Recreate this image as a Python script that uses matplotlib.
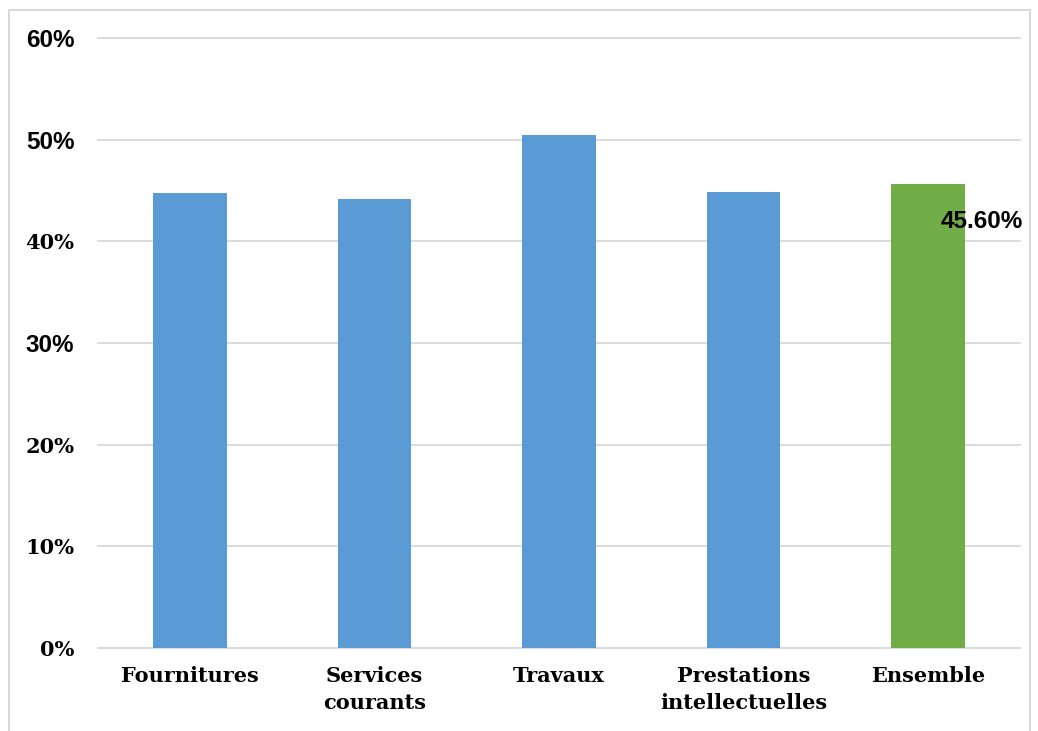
import matplotlib.pyplot as plt
from matplotlib import font_manager
from matplotlib.patches import Rectangle
from matplotlib.ticker import FuncFormatter

# Data
categories = ['Fournitures', 'Services\ncourants', 'Travaux',
              'Prestations\nintellectuelles', 'Ensemble']
values = [44.75, 44.2, 50.5, 44.85, 45.6]
bar_colors = ['#5B9BD5', '#5B9BD5', '#5B9BD5', '#5B9BD5', '#70AD47']
yticks = [0, 10, 20, 30, 40, 50, 60]
ensemble_label = '45.60%'

# Arial-like bold (avoid the Narrow variant)
sans_bold = None
for f in font_manager.fontManager.ttflist:
  if f.name == 'Liberation Sans' and f.weight == 700 and f.style == 'normal' \
     and 'Narrow' not in f.fname:
    sans_bold = font_manager.FontProperties(fname=f.fname)
    break
if sans_bold is None:
  sans_bold = font_manager.FontProperties(family='DejaVu Sans', weight='bold')

fig = plt.figure(figsize=(10.38, 7.31), dpi=100, facecolor='w')
ax = fig.add_axes([0.0944, 0.1135, 0.8883, 0.8345])

x = range(len(categories))
ax.bar(x, values, width=0.40, color=bar_colors, zorder=3)

ax.set_xlim(-0.5, len(categories) - 0.5)
ax.set_ylim(0, 60)
ax.set_yticks(yticks)
ax.yaxis.set_major_formatter(FuncFormatter(lambda v, p: '{:.0f}%'.format(v)))
ax.grid(axis='y', color='#D9D9D9', linewidth=1.3, zorder=0)
for gl in ax.get_ygridlines():
  gl.set_clip_on(False)
ax.set_axisbelow(True)

for s in ['top', 'right', 'left']:
  ax.spines[s].set_visible(False)
ax.spines['bottom'].set_color('#D9D9D9')
ax.spines['bottom'].set_linewidth(1.3)
ax.tick_params(axis='both', length=0)
ax.tick_params(axis='y', pad=17)
ax.tick_params(axis='x', pad=13)

ax.set_xticks(list(x))
ax.set_xticklabels(categories, fontsize=15, fontweight='bold',
                   family='DejaVu Serif', linespacing=1.45)

# tick labels: mix of sans and slab-serif like the original
sans_ticks = ['60%', '50%', '30%']
for lab in ax.get_yticklabels():
  if lab.get_text() in sans_ticks:
    lab.set_fontproperties(sans_bold)
    lab.set_fontsize(17.5)
  else:
    lab.set_family('DejaVu Serif')
    lab.set_fontweight('bold')
    lab.set_fontsize(15)

t = ax.text(4.29, 42.0, ensemble_label, ha='center', va='center', zorder=4)
t.set_fontproperties(sans_bold)
t.set_fontsize(17.5)

# light frame around the chart area
fig.patches.append(Rectangle((9 / 1038, -0.05), 1021 / 1038, 0.05 + 721 / 731,
                             transform=fig.transFigure, fill=False,
                             edgecolor='#D9D9D9', linewidth=1.5))

fig.savefig('out.png', dpi=100)
